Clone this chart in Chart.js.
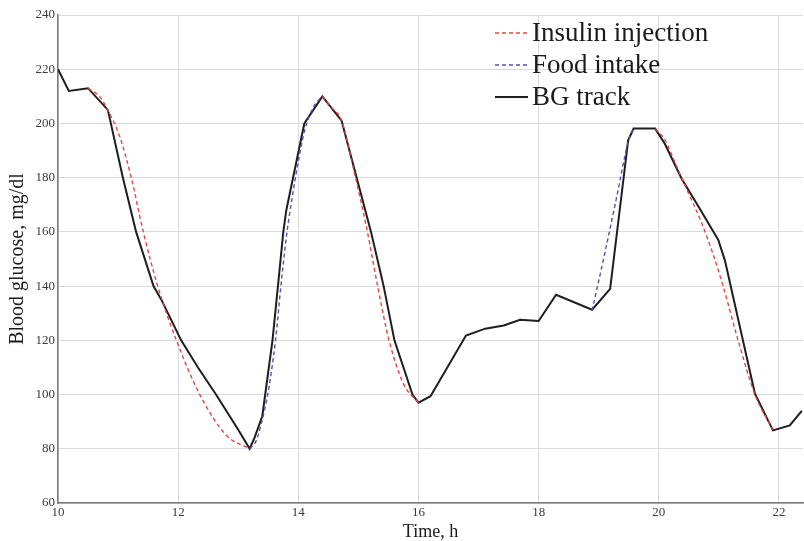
<!DOCTYPE html>
<html>
<head>
<meta charset="utf-8">
<script src="https://cdn.jsdelivr.net/npm/chart.js@4/dist/chart.umd.min.js"></script>
<style>
  html, body { margin: 0; padding: 0; background: #ffffff; }
  #wrap { width: 804px; height: 541px; }
</style>
</head>
<body>
<div id="wrap"><canvas id="c" width="804" height="541"></canvas></div>
<script>
// ---- Data ----
const legendLabels = ['Insulin injection', 'Food intake', 'BG track'];
const xTickValues = [10, 12, 14, 16, 18, 20, 22];
const yTickValues = [60, 80, 100, 120, 140, 160, 180, 200, 220, 240];

// BG track (solid black)
const bgTime = [10, 10.18, 10.5, 10.83, 11.08, 11.3, 11.59, 11.72, 12.05, 12.33, 12.63, 13.0, 13.19,
  13.27, 13.4, 13.57, 13.67, 13.75, 13.8, 14.1, 14.4, 14.72, 15.21, 15.42, 15.6, 15.9, 16.0,
  16.2, 16.79, 17.11, 17.42, 17.69, 18.0, 18.29, 18.89, 19.19, 19.49, 19.58, 19.94,
  20.1, 20.38, 20.67, 20.99, 21.1, 21.6, 21.9, 22.18, 22.38];
const bgValue = [220, 212, 213, 205, 180, 160, 140, 135, 120, 110, 100, 87, 80,
  84, 92, 120, 142, 160, 168, 200, 210, 201, 160, 140, 120, 100, 97,
  99.4, 121.8, 124.3, 125.5, 127.6, 127.1, 136.8, 131.3, 139, 193.8, 198.1, 198.1,
  192.5, 179.6, 169, 157, 149.5, 100.3, 86.8, 88.6, 94];

// Insulin injection (red dashed) - three segments separated by null
const insulinTime = [10.5, 10.7, 10.86, 11.03, 11.22, 11.42, 11.66, 11.97, 12.36, 12.8, 13.19, 13.2,
  14.4, 14.55, 14.72, 14.9, 15.15, 15.32, 15.51, 15.75, 16.0, 16.01,
  19.94, 20.1, 20.3, 20.5, 20.7, 20.9, 21.07, 21.32, 21.6, 21.9];
const insulinValue = [213, 209.7, 203.6, 195, 180, 160, 140, 120, 100, 85, 80, null,
  210, 206, 201, 185, 160, 140, 120, 104, 97, null,
  198, 194, 184, 174, 164, 152, 140, 120, 100, 87];

// Food intake (blue dashed) - two segments separated by null
const foodTime = [13.19, 13.3, 13.38, 13.49, 13.62, 13.71, 13.8, 13.9, 14.0, 14.1, 14.25, 14.4, 14.41,
  18.89, 19.1, 19.3, 19.5, 19.58];
const foodValue = [80, 83, 89, 100, 120, 140, 158, 173, 186, 197, 206, 210, null,
  131, 152, 173, 194, 198];

const toPoints = (xs, ys) => xs.map((x, i) => ({ x: x, y: ys[i] }));

const SERIF = "'Liberation Serif', 'DejaVu Serif', serif";

const innerLegend = {
  id: 'innerLegend',
  afterDraw(chart) {
    const ctx = chart.ctx;
    const area = chart.chartArea;
    const x0 = area.right - 308;
    const y0 = area.top + 18;
    const gap = 32;
    ctx.save();
    chart.data.datasets.forEach((ds, k) => {
      const y = y0 + k * gap;
      ctx.beginPath();
      ctx.setLineDash(ds.borderDash || []);
      ctx.strokeStyle = ds.borderColor;
      ctx.lineWidth = ds.borderWidth;
      ctx.moveTo(x0, y);
      ctx.lineTo(x0 + 33, y);
      ctx.stroke();
      ctx.setLineDash([]);
      ctx.fillStyle = '#1a1a1a';
      ctx.font = '27px ' + SERIF;
      ctx.textBaseline = 'middle';
      ctx.textAlign = 'left';
      ctx.fillText(ds.label, x0 + 37, y + 1);
    });
    ctx.restore();
  }
};

new Chart(document.getElementById('c'), {
  type: 'line',
  data: {
    datasets: [
      {
        label: legendLabels[0],
        data: toPoints(insulinTime, insulinValue),
        borderColor: '#e5473f',
        borderWidth: 1.4,
        borderDash: [4, 3],
        cubicInterpolationMode: 'monotone',
        pointRadius: 0,
        spanGaps: false,
        fill: false,
        order: 1
      },
      {
        label: legendLabels[1],
        data: toPoints(foodTime, foodValue),
        borderColor: '#5252ad',
        borderWidth: 1.4,
        borderDash: [4, 3],
        cubicInterpolationMode: 'monotone',
        pointRadius: 0,
        spanGaps: false,
        fill: false,
        order: 2
      },
      {
        label: legendLabels[2],
        data: toPoints(bgTime, bgValue),
        borderColor: '#1e1e1e',
        borderWidth: 2,
        tension: 0,
        pointRadius: 0,
        fill: false,
        order: 3
      }
    ]
  },
  options: {
    responsive: false,
    animation: false,
    events: [],
    layout: { padding: { left: 0, top: 15, right: 1, bottom: 0 } },
    plugins: {
      legend: { display: false },
      tooltip: { enabled: false },
      title: { display: false }
    },
    scales: {
      x: {
        type: 'linear',
        min: 10,
        max: 22.4,
        afterBuildTicks: (s) => { s.ticks = xTickValues.map(v => ({ value: v })); },
        afterFit: (s) => { s.height = 38; },
        grid: { color: '#dadada', lineWidth: 1, drawTicks: false },
        border: { display: true, color: '#7a7a7a', width: 1.5 },
        ticks: {
          padding: 2,
          color: '#3a3a3a',
          font: { family: SERIF, size: 13 },
          maxRotation: 0,
          autoSkip: false
        },
        title: {
          display: true,
          text: 'Time, h',
          color: '#1a1a1a',
          font: { family: SERIF, size: 18, lineHeight: 1 },
          padding: { top: 0, bottom: 0 }
        }
      },
      y: {
        type: 'linear',
        min: 60,
        max: 240,
        afterBuildTicks: (s) => { s.ticks = yTickValues.map(v => ({ value: v })); },
        afterFit: (s) => { s.width = 58; },
        grid: { color: '#dadada', lineWidth: 1, drawTicks: false },
        border: { display: true, color: '#7a7a7a', width: 1.5 },
        ticks: {
          padding: 3,
          color: '#3a3a3a',
          font: { family: SERIF, size: 13 },
          autoSkip: false
        },
        title: {
          display: true,
          text: 'Blood glucose, mg/dl',
          color: '#1a1a1a',
          font: { family: SERIF, size: 20, lineHeight: 1 },
          padding: { top: 8, bottom: 0 }
        }
      }
    }
  },
  plugins: [innerLegend]
});
</script>
</body>
</html>
